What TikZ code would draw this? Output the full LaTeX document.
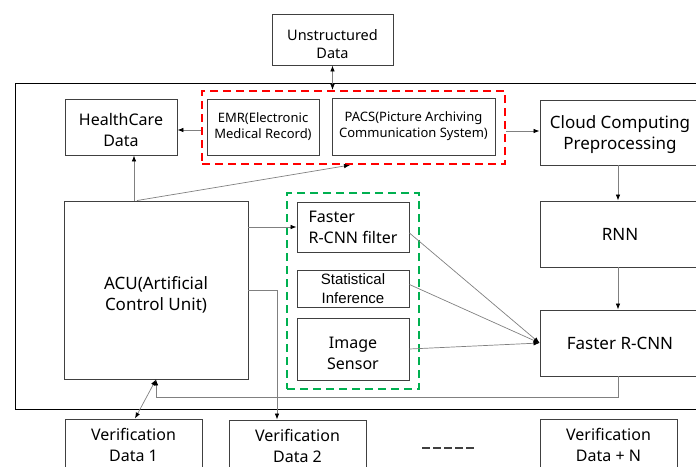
\documentclass[tikz,border=0pt]{standalone}
\usepackage{fontspec}
\setmainfont{Noto Sans}
\newfontfamily\arialf{Liberation Sans}
\usetikzlibrary{arrows.meta}

\definecolor{boxline}{HTML}{404040}
\definecolor{wire}{HTML}{808080}
\definecolor{grpred}{HTML}{FF0000}
\definecolor{grpgreen}{HTML}{00B050}

\tikzset{
  box/.style={draw=boxline, line width=0.9pt, align=center, inner sep=2pt},
  lbl/.style={align=center, inner sep=0pt},
  fs13/.style={font=\fontsize{13}{16}\selectfont},
  fs14/.style={font=\fontsize{14.5}{18}\selectfont},
  fs16/.style={font=\fontsize{16}{21}\selectfont},
  fs17/.style={font=\fontsize{17}{21}\selectfont},
  redgroup/.style={draw=grpred, line width=2.2pt, dash pattern=on 8pt off 5pt},
  greengroup/.style={draw=grpgreen, line width=2.2pt, dash pattern=on 8pt off 5pt},
  tip/.tip={Latex[length=6pt,width=4.5pt,color=black]},
  arr/.style={draw=wire, line width=0.7pt, -tip},
  biarr/.style={draw=wire, line width=0.7pt, tip-tip},
  gapline/.style={draw=boxline, line width=2pt, dash pattern=on 8pt off 3pt},
}

\begin{document}
\begin{tikzpicture}[x=1pt, y=-1pt]
\useasboundingbox (0,0) rectangle (696,466);
\clip (0,0) rectangle (696,466);

% outer system frame
\draw[black, line width=0.9pt] (15,83) rectangle (720,409);

% top source
\node[box, minimum width=121, minimum height=51] (unstr) at (332.5,39.5) {};
\node[lbl, fs14] (unstrT) at ([yshift=-4.5pt]unstr.center) {Unstructured\\Data};

% record systems and their group
\node[box, minimum width=112, minimum height=56] (hc) at (121,127) {};
\node[lbl, fs16] (hcT) at ([yshift=-3pt]hc.center) {HealthCare\\Data};
\node[box, fs13, minimum width=112, minimum height=56] (emr) at (263,127) {EMR(Electronic\\Medical Record)};
\node[box, fs13, minimum width=163, minimum height=57] (pacs) at (413.5,126.5) {PACS(Picture Archiving\\Communication System)};
\node[redgroup, minimum width=303, minimum height=73, inner sep=0pt] (redgrp) at (353.5,127.5) {};

% right-hand processing column
\node[box, minimum width=160, minimum height=65] (cloud) at (620,132.5) {};
\node[lbl, fs17] (cloudT) at ([yshift=-2.5pt]cloud.center) {Cloud Computing\\Preprocessing};
\node[box, fs17, minimum width=160, minimum height=66] (rnn) at (620,234) {RNN};
\node[box, fs17, minimum width=160, minimum height=66] (frcnn) at (620,343) {Faster R-CNN};

% control unit
\node[box, minimum width=184, minimum height=178] (acu) at (156,290) {};
\node[lbl, fs17] (acuT) at ([yshift=-4.5pt]acu.center) {ACU(Artificial\\Control Unit)};

% detection modules and their group
\node[box, fs16, minimum width=112, minimum height=50, align=left] (filt) at (353,227) {Faster\\R-CNN filter};
\node[box, font=\arialf\fontsize{15}{19}\selectfont, minimum width=112, minimum height=37, inner sep=0pt] (stat) at (353,288.5) {Statistical\\Inference};
\node[box, minimum width=112, minimum height=62] (img) at (353,349) {};
\node[lbl, fs16] (imgT) at ([yshift=-4pt]img.center) {Image\\Sensor};
\node[greengroup, minimum width=132, minimum height=196, inner sep=0pt] (grngrp) at (353,291) {};

% verification data
\node[box, minimum width=137, minimum height=60] (v1) at (133.5,449) {};
\node[lbl, fs16] (v1T) at (133.5,445) {Verification\\Data 1};
\node[box, minimum width=137, minimum height=60] (v2) at (297.5,450) {};
\node[lbl, fs16] (v2T) at (297.5,446) {Verification\\Data 2};
\node[box, minimum width=137, minimum height=60] (vn) at (608.5,449) {};
\node[lbl, fs16] (vnT) at (608.5,445) {Verification\\Data + N};
\coordinate (gapA) at (422,448);
\coordinate (gapB) at (474,448);
\draw[gapline] (gapA) -- (gapB);

% connectors
\draw[biarr] (unstr.south) -- (unstr.south |- redgrp.north);
\draw[arr] ([yshift=-2.5pt]redgrp.west) -- ([yshift=-2.5pt]redgrp.west -| hc.east);
\draw[arr] (redgrp.east |- 0,131) -- (cloud.west |- 0,131);
\draw[arr] (cloud.south -| 618,0) -- (rnn.north -| 618,0);
\draw[arr] (rnn.south -| 618,0) -- (frcnn.north -| 618,0);

\draw[arr] (134,0 |- acu.north) -- (134,0 |- hc.south);
\draw[arr] (137,0 |- acu.north) -- (350,0 |- redgrp.south);
\draw[arr] (acu.east |- filt.west) -- (filt.west);
\draw[arr] (acu.east) -| (277,0 |- v2.north);

\draw[arr] ([yshift=-6pt]filt.east) -- (frcnn.west);
\draw[arr] ([yshift=4pt]stat.east) -- (frcnn.west);
\draw[arr] (img.east) -- (frcnn.west);

\draw[arr] (frcnn.south -| 618,0) -- (618,397) -| (acu.south);
\draw[biarr] (acu.south) -- (135,0 |- v1.north);
\end{tikzpicture}
\end{document}
